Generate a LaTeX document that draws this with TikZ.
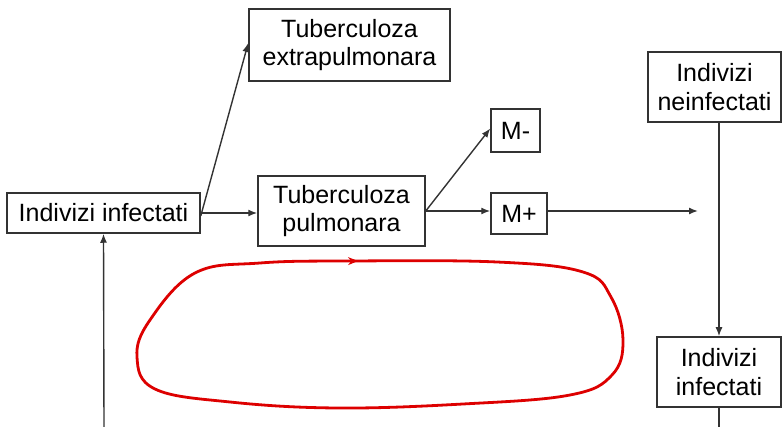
\documentclass[tikz,border=0pt]{standalone}
\usepackage{fontspec}
\setmainfont{Liberation Sans}
\usetikzlibrary{arrows.meta}
\definecolor{ln}{HTML}{333333}
\definecolor{loopred}{HTML}{DD0000}
\begin{document}
\begin{tikzpicture}[x=1pt,y=-1pt,
  box/.style={draw=ln,line width=1.5pt,rectangle,inner sep=0pt,align=center,
    font=\fontsize{25}{28.5}\selectfont,text=black},
  conn/.style={draw=ln,line width=1.4pt,-{Latex[length=9pt,width=7pt]}},
  plainline/.style={draw=ln,line width=1.4pt}]
\useasboundingbox (0,0) rectangle (782,427);
\node[box,minimum width=193pt,minimum height=40pt] (inf1) at (103.5,213) {Indivizi infectati};
\node[box,minimum width=201pt,minimum height=72pt] (extra) at (349.5,45) {Tuberculoza\\extrapulmonara};
\node[box,minimum width=167pt,minimum height=70pt] (pulm) at (341.5,211) {Tuberculoza\\pulmonara};
\node[box,minimum width=49pt,minimum height=43pt] (mminus) at (515.5,130.5) {M-};
\node[box,minimum width=56pt,minimum height=41pt] (mplus) at (519,213.5) {M+};
\node[box,minimum width=133pt,minimum height=70pt] (neinf) at (714.5,87) {Indivizi\\neinfectati};
\node[box,minimum width=124pt,minimum height=70pt] (inf2) at (719,372) {Indivizi\\infectati};
\coordinate (bot1) at (104,427);
\coordinate (bot2) at (719,427);
\coordinate (mend) at (698,211);
\draw[conn] (bot1) -- (inf1.south);
\draw[conn] (inf1.east) -- (pulm.west |- inf1.east);
\draw[conn] ([yshift=-3pt]inf1.east) -- ([yshift=2pt]extra.west);
\draw[conn] (pulm.east) -- ([yshift=2pt]mminus.west);
\draw[conn] (pulm.east) -- (mplus.west |- pulm.east);
\draw[conn] (mplus.east |- mend) -- (mend);
\draw[conn] (inf2.north |- neinf.south) -- (inf2.north);
\draw[plainline] (inf2.south) -- (bot2);
\draw[loopred,line width=2.8pt] plot[smooth cycle,tension=0.65] coordinates {
  (195,273) (260,263) (350,261) (497,262) (583,272) (611,297) (623,340)
  (612,375) (570,395) (463,404) (337,408) (230,402) (155,389)
  (137,357) (150,320)};
\draw[loopred,line width=1pt,-{Stealth[length=10pt,width=8pt]}] (340,261.2) -- (358,261);
\end{tikzpicture}
\end{document}
